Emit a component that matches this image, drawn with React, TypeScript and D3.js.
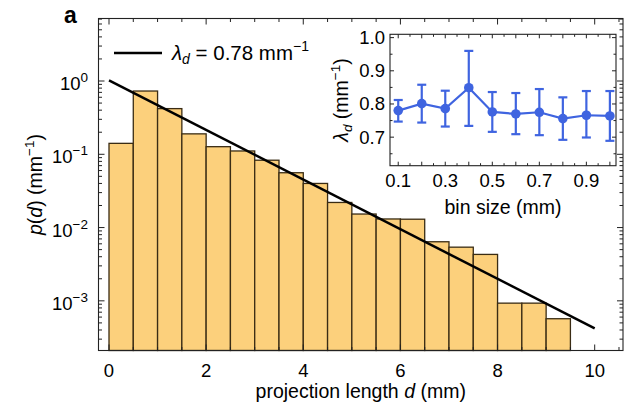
import React from 'react';
import * as d3 from 'd3';

// histogram of projection lengths (bin width 0.5 mm)
const binStarts = [0, 0.5, 1, 1.5, 2, 2.5, 3, 3.5, 4, 4.5, 5, 5.5, 6, 6.5, 7, 7.5, 8, 8.5, 9];
const binValues = [0.141, 0.73, 0.42, 0.19, 0.127, 0.111, 0.083, 0.056, 0.04, 0.022, 0.0153, 0.0131, 0.013, 0.0064, 0.0054, 0.0043, 0.00093, 0.00093, 0.00057];
const binWidth = 0.5;

// fitted exponential, endpoints
const fitD = [0, 10];
const fitP = [1.02, 0.00042];

// inset: lambda vs bin size
const binSizes = [0.1, 0.2, 0.3, 0.4, 0.5, 0.6, 0.7, 0.8, 0.9, 1.0];
const lambdaVals = [0.78, 0.801, 0.786, 0.849, 0.776, 0.77, 0.775, 0.756, 0.766, 0.764];
const lambdaHi = [0.812, 0.858, 0.84, 0.96, 0.836, 0.833, 0.845, 0.82, 0.839, 0.839];
const lambdaLo = [0.747, 0.744, 0.732, 0.734, 0.716, 0.709, 0.706, 0.692, 0.699, 0.689];

const xTickVals = [0, 2, 4, 6, 8, 10];
const yTickExps = [0, -1, -2, -3];
const insetXTicks = [0.1, 0.3, 0.5, 0.7, 0.9];
const insetYTicks = [0.7, 0.8, 0.9, 1.0];

const font = 'Liberation Sans, Arial, Helvetica, sans-serif';
const barFill = '#fcd07c';
const barStroke = '#3a2c14';
const blue = '#3f64e0';

const frame = { left: 98.5, right: 623, top: 18.5, bottom: 350.5 };
const inset = { left: 390, right: 616, top: 34.3, bottom: 165.7 };

const tickSize = 18.5;
const labelSize = 19.5;
const supSize = 13.5;

export default function App() {
  const x = d3.scaleLinear().domain([0, 10]).range([109, 594.7]);
  const y = d3.scaleLog().domain([2.1e-4, 7.13]).range([frame.bottom, frame.top]);
  const ix = d3.scaleLinear().domain([0.065, 1.026]).range([inset.left, inset.right]);
  const iy = d3.scaleLinear().domain([0.614, 1.01]).range([inset.bottom, inset.top]);

  // minor log ticks
  const logTicks: { v: number; major: boolean }[] = [];
  for (let e = -4; e <= 0; e++) {
    for (let m = 1; m <= 9; m++) {
      const v = m * Math.pow(10, e);
      const [lo, hi] = y.domain();
      if (v >= lo && v <= hi) logTicks.push({ v, major: m === 1 });
    }
  }
  const xTicks = d3.range(0, 10.6, 0.5).map(v => ({ v, major: Math.abs(v % 2) < 1e-9 }));
  const ixTicks = d3.range(0.1, 1.01, 0.05).map(v => ({ v, major: Math.abs(Math.round(v * 100) % 10) < 1e-6 }));
  const iyTicks = d3.range(0.65, 1.01, 0.05).map(v => ({ v, major: Math.round(v * 100) % 10 === 0 }));

  const line = d3.line<number>().x((_, i) => x(fitD[i])).y(d => y(d));
  const insetLine = d3.line<number>().x((_, i) => ix(binSizes[i])).y(d => iy(d));

  return (
    <svg width={625} height={405} style={{ position: 'absolute', left: 0, top: 0 }} fontFamily={font}>
      <rect width={625} height={405} fill="white" />
      <text x={64} y={23} fontSize={23} fontWeight="bold">a</text>

      {/* bars */}
      {binStarts.map((s, i) => (
        <rect key={i} x={x(s)} y={y(binValues[i])} width={x(s + binWidth) - x(s)}
          height={frame.bottom - y(binValues[i])} fill={barFill} stroke={barStroke} strokeWidth={1.3} />
      ))}

      {/* fit line */}
      <path d={line(fitP) || ''} fill="none" stroke="black" strokeWidth={2.5} />

      {/* frame */}
      <rect x={frame.left} y={frame.top} width={frame.right - frame.left} height={frame.bottom - frame.top}
        fill="none" stroke="#222" strokeWidth={1.1} />
      {logTicks.map((t, i) => {
        const len = t.major ? 6 : 3.5;
        return (
          <g key={'ly' + i} stroke="#222" strokeWidth={1}>
            <line x1={frame.left} x2={frame.left + len} y1={y(t.v)} y2={y(t.v)} />
            <line x1={frame.right} x2={frame.right - len} y1={y(t.v)} y2={y(t.v)} />
          </g>
        );
      })}
      {xTicks.map((t, i) => {
        const len = t.major ? 6 : 3.5;
        return (
          <g key={'lx' + i} stroke="#222" strokeWidth={1}>
            <line x1={x(t.v)} x2={x(t.v)} y1={frame.bottom} y2={frame.bottom - len} />
            <line x1={x(t.v)} x2={x(t.v)} y1={frame.top} y2={frame.top + len} />
          </g>
        );
      })}
      {xTickVals.map(v => (
        <text key={'xt' + v} x={x(v)} y={377} fontSize={tickSize} textAnchor="middle">{v}</text>
      ))}
      {yTickExps.map(e => (
        <text key={'yt' + e} x={88} y={y(Math.pow(10, e)) + 9} fontSize={tickSize} textAnchor="end">
          10<tspan fontSize={supSize} dy={-8}>{e === 0 ? '0' : '\u2212' + (-e)}</tspan>
        </text>
      ))}
      <text x={(frame.left + frame.right) / 2} y={398} fontSize={labelSize} textAnchor="middle">
        projection length <tspan fontStyle="italic">d</tspan> (mm)
      </text>
      <text transform={`translate(42,${(frame.top + frame.bottom) / 2}) rotate(-90)`} fontSize={labelSize} textAnchor="middle">
        <tspan fontStyle="italic">p</tspan>(<tspan fontStyle="italic">d</tspan>)  (mm<tspan fontSize={supSize} dy={-8}>{'\u22121'}</tspan><tspan dy={8}>)</tspan>
      </text>

      {/* legend */}
      <line x1={114} x2={162} y1={53} y2={53} stroke="black" strokeWidth={2.5} />
      <text x={172} y={60} fontSize={20.5}>
        <tspan fontStyle="italic">λ</tspan><tspan fontStyle="italic" fontSize={14} dy={4}>d</tspan>
        <tspan dy={-4}> = 0.78 mm</tspan><tspan fontSize={14} dy={-9}>{'\u22121'}</tspan>
      </text>

      {/* inset */}
      <rect x={inset.left} y={inset.top} width={inset.right - inset.left} height={inset.bottom - inset.top}
        fill="white" stroke="#222" strokeWidth={1.1} />
      {ixTicks.map((t, i) => {
        const len = t.major ? 4 : 2.5;
        return (
          <g key={'ix' + i} stroke="#222" strokeWidth={1}>
            <line x1={ix(t.v)} x2={ix(t.v)} y1={inset.bottom} y2={inset.bottom - len} />
            <line x1={ix(t.v)} x2={ix(t.v)} y1={inset.top} y2={inset.top + len} />
          </g>
        );
      })}
      {iyTicks.map((t, i) => {
        const len = t.major ? 4 : 2.5;
        return (
          <g key={'iy' + i} stroke="#222" strokeWidth={1}>
            <line x1={inset.left} x2={inset.left + len} y1={iy(t.v)} y2={iy(t.v)} />
            <line x1={inset.right} x2={inset.right - len} y1={iy(t.v)} y2={iy(t.v)} />
          </g>
        );
      })}
      {insetXTicks.map(v => (
        <text key={'ixt' + v} x={ix(v)} y={187} fontSize={tickSize} textAnchor="middle">{v.toFixed(1)}</text>
      ))}
      {insetYTicks.map(v => (
        <text key={'iyt' + v} x={385} y={iy(v) + 6.5} fontSize={tickSize} textAnchor="end">{v.toFixed(1)}</text>
      ))}
      <text x={(inset.left + inset.right) / 2} y={214} fontSize={labelSize} textAnchor="middle">bin size (mm)</text>
      <text transform={`translate(348,${(inset.top + inset.bottom) / 2}) rotate(-90)`} fontSize={labelSize} textAnchor="middle">
        <tspan fontStyle="italic">λ</tspan><tspan fontStyle="italic" fontSize={supSize} dy={4}>d</tspan>
        <tspan dy={-4}>  (mm</tspan><tspan fontSize={supSize} dy={-8}>{'\u22121'}</tspan><tspan dy={8}>)</tspan>
      </text>

      <path d={insetLine(lambdaVals) || ''} fill="none" stroke={blue} strokeWidth={2.2} />
      {binSizes.map((b, i) => (
        <g key={'ip' + i} stroke={blue} strokeWidth={2.2}>
          <line x1={ix(b)} x2={ix(b)} y1={iy(lambdaLo[i])} y2={iy(lambdaHi[i])} />
          <line x1={ix(b) - 4.5} x2={ix(b) + 4.5} y1={iy(lambdaLo[i])} y2={iy(lambdaLo[i])} />
          <line x1={ix(b) - 4.5} x2={ix(b) + 4.5} y1={iy(lambdaHi[i])} y2={iy(lambdaHi[i])} />
          <circle cx={ix(b)} cy={iy(lambdaVals[i])} r={4.8} fill={blue} stroke="none" />
        </g>
      ))}
    </svg>
  );
}
